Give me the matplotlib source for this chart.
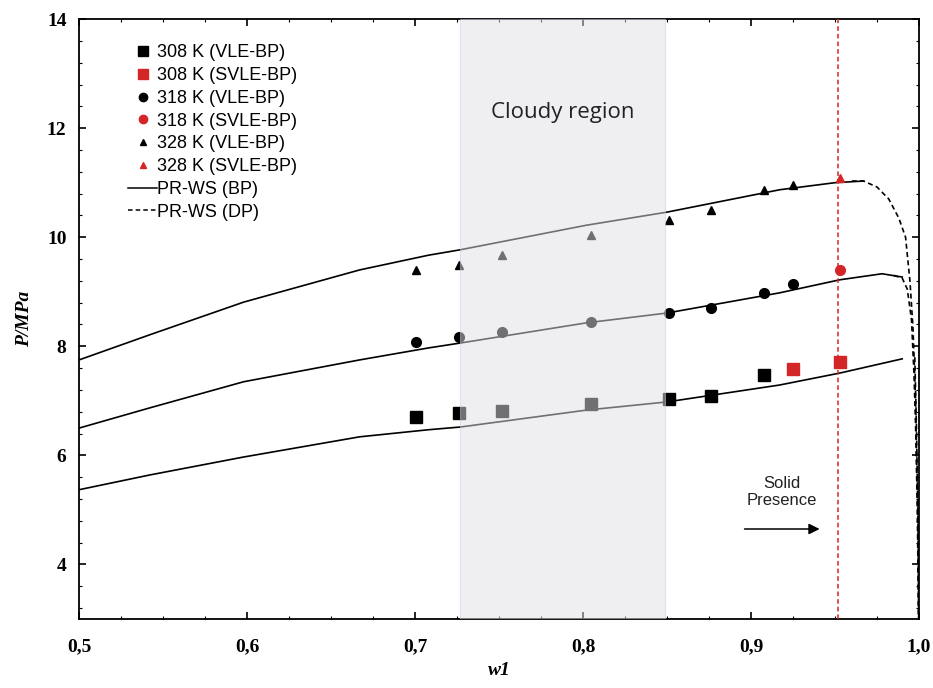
import matplotlib

matplotlib.use("Agg")
import matplotlib.pyplot as plt
from matplotlib.lines import Line2D
from matplotlib.ticker import FixedLocator, FuncFormatter, MultipleLocator

# experimental bubble points, VLE and SVLE
w_308_vle = [0.7006, 0.726, 0.752, 0.805, 0.851, 0.876, 0.908]
p_308_vle = [6.70, 6.78, 6.82, 6.94, 7.03, 7.09, 7.47]
w_308_svle = [0.925, 0.953]
p_308_svle = [7.58, 7.71]

w_318_vle = [0.7006, 0.726, 0.752, 0.805, 0.851, 0.876, 0.908, 0.925]
p_318_vle = [8.08, 8.17, 8.26, 8.45, 8.61, 8.70, 8.98, 9.14]
w_318_svle = [0.953]
p_318_svle = [9.40]

w_328_vle = [0.7006, 0.726, 0.752, 0.805, 0.851, 0.876, 0.908, 0.925]
p_328_vle = [9.40, 9.49, 9.67, 10.04, 10.32, 10.50, 10.87, 10.96]
w_328_svle = [0.953]
p_328_svle = [11.09]

# PR-WS model, bubble point branch
w_bp_308 = [0.5, 0.542, 0.598, 0.667, 0.708, 0.727, 0.802, 0.85, 0.917, 0.953, 0.99]
p_bp_308 = [5.37, 5.64, 5.97, 6.34, 6.47, 6.52, 6.83, 6.98, 7.29, 7.51, 7.77]
w_bp_318 = [0.5, 0.542, 0.598, 0.667, 0.708, 0.727, 0.802, 0.85, 0.917, 0.953, 0.978, 0.99]
p_bp_318 = [6.50, 6.87, 7.35, 7.75, 7.97, 8.06, 8.43, 8.61, 8.98, 9.22, 9.33, 9.27]
w_bp_328 = [0.5, 0.542, 0.598, 0.667, 0.708, 0.727, 0.802, 0.85, 0.917, 0.95, 0.967]
p_bp_328 = [7.75, 8.21, 8.81, 9.40, 9.67, 9.77, 10.22, 10.46, 10.87, 11.00, 11.03]

# PR-WS model, dew point branch
w_dp_308 = [0.9975, 0.9985, 0.9993, 0.9998]
p_dp_308 = [7.8, 6.5, 5.0, 3.0]
w_dp_318 = [0.985, 0.99, 0.993, 0.9955, 0.997, 0.998, 0.999, 0.9997]
p_dp_318 = [9.30, 9.25, 9.05, 8.50, 7.50, 6.50, 5.00, 3.00]
w_dp_328 = [0.96, 0.967, 0.975, 0.982, 0.988, 0.992, 0.9946, 0.9964, 0.998, 0.9992, 0.9998]
p_dp_328 = [11.03, 11.03, 10.92, 10.70, 10.35, 10.00, 9.20, 8.35, 7.00, 5.00, 3.00]

cloudy_range = (0.727, 0.849)
solid_limit = 0.952

red = "#d42626"

fig = plt.figure(figsize=(9.33, 6.88), dpi=100)
ax = fig.add_axes([0.0847, 0.1003, 0.9003, 0.872])

for w, p in [(w_bp_308, p_bp_308), (w_bp_318, p_bp_318), (w_bp_328, p_bp_328)]:
    ax.plot(w, p, color="black", linewidth=1.2, zorder=2)
for w, p in [(w_dp_308, p_dp_308), (w_dp_318, p_dp_318), (w_dp_328, p_dp_328)]:
    ax.plot(w, p, color="black", linewidth=1.2, linestyle=(0, (3, 2)), zorder=2)

ax.plot(w_308_vle, p_308_vle, "s", color="black", markersize=8, zorder=3)
ax.plot(w_308_svle, p_308_svle, "s", color=red, markersize=8, zorder=3)
ax.plot(w_318_vle, p_318_vle, "o", color="black", markersize=7, zorder=3)
ax.plot(w_318_svle, p_318_svle, "o", color=red, markersize=7, zorder=3)
ax.plot(w_328_vle, p_328_vle, "^", color="black", markersize=6, zorder=3)
ax.plot(w_328_svle, p_328_svle, "^", color=red, markersize=6, zorder=3)

# translucent band on top of the data
ax.axvspan(*cloudy_range, facecolor="#e0e0e6", edgecolor="#c8cbe0", alpha=0.5, linewidth=0.8, zorder=4)
ax.text(sum(cloudy_range) / 2, 12.28, "Cloudy region", ha="center", va="center",
        fontsize=16, family="Open Sans", color="#222222", zorder=5)

ax.axvline(solid_limit, color=red, linewidth=1.1, linestyle=(0, (3, 2)), zorder=3)
ax.annotate("", xy=(0.9425, 4.65), xytext=(0.8945, 4.65),
            arrowprops=dict(arrowstyle="-|>", color="black", lw=1.1, mutation_scale=16))
ax.text(0.9185, 5.33, "Solid\nPresence", ha="center", va="center", fontsize=12,
        family="Liberation Sans", color="#222222", linespacing=1.1)

ax.set_xlim(0.5, 1.0)
ax.set_ylim(3, 14)
ax.xaxis.set_major_locator(MultipleLocator(0.1))
ax.xaxis.set_minor_locator(MultipleLocator(0.025))
ax.yaxis.set_major_locator(FixedLocator([4, 6, 8, 10, 12, 14]))
ax.yaxis.set_minor_locator(MultipleLocator(0.4))
ax.xaxis.set_major_formatter(FuncFormatter(lambda v, _: f"{v:.1f}".replace(".", ",")))
ax.tick_params(which="both", direction="in", top=True, right=True)
ax.tick_params(which="major", length=5, width=1.2)
ax.tick_params(axis="x", which="major", pad=14)
ax.tick_params(axis="y", which="major", pad=9)
ax.tick_params(which="minor", length=2.5, width=0.8)
for lbl in ax.get_xticklabels() + ax.get_yticklabels():
    lbl.set_family("Liberation Serif")
    lbl.set_fontweight("bold")
    lbl.set_fontsize(14)
for s in ax.spines.values():
    s.set_linewidth(1.3)

ax.set_xlabel("w1", family="Liberation Serif", style="italic", fontweight="bold", fontsize=14, labelpad=5)
ax.set_ylabel("P/MPa", family="Liberation Serif", style="italic", fontweight="bold", fontsize=14, labelpad=10)

handles = [
    Line2D([], [], marker="s", color="black", linestyle="none", markersize=7),
    Line2D([], [], marker="s", color=red, linestyle="none", markersize=7),
    Line2D([], [], marker="o", color="black", linestyle="none", markersize=6),
    Line2D([], [], marker="o", color=red, linestyle="none", markersize=6),
    Line2D([], [], marker="^", color="black", linestyle="none", markersize=5),
    Line2D([], [], marker="^", color=red, linestyle="none", markersize=5),
    Line2D([], [], color="black", linewidth=1.1),
    Line2D([], [], color="black", linewidth=1.1, linestyle=(0, (3, 2))),
]
labels = ["308 K (VLE-BP)", "308 K (SVLE-BP)", "318 K (VLE-BP)", "318 K (SVLE-BP)",
          "328 K (VLE-BP)", "328 K (SVLE-BP)", "PR-WS (BP)", "PR-WS (DP)"]
ax.legend(handles, labels, loc="upper left", bbox_to_anchor=(0.05, 0.97), frameon=False,
          prop={"family": "Liberation Sans", "size": 13}, handlelength=1.6,
          handletextpad=0.0, labelspacing=0.32, borderaxespad=0)

fig.savefig("out.png")
plt.close(fig)
